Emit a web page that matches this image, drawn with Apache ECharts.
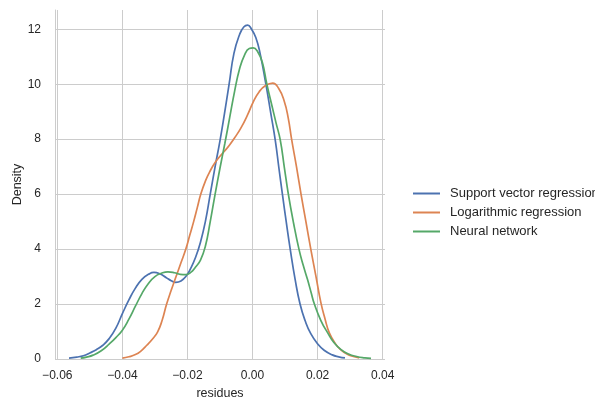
<!DOCTYPE html>
<html><head><meta charset="utf-8">
<script src="https://cdn.jsdelivr.net/npm/echarts@6/dist/echarts.min.js"></script>
<style>html,body{margin:0;padding:0;background:#fff}#c{width:595px;height:397px}</style>
</head><body><div id="c"></div>
<script>
const seriesNames = ['Support vector regression', 'Logarithmic regression', 'Neural network'];
const seriesColors = ['#4c72b0', '#dd8452', '#55a868'];

const svrData = [[-0.0564,0.03],[-0.0540,0.07],[-0.0520,0.12],[-0.0500,0.22],[-0.0480,0.34],[-0.0460,0.50],[-0.0440,0.75],[-0.0420,1.12],[-0.0400,1.65],[-0.0380,2.15],[-0.0360,2.58],[-0.0340,2.90],[-0.0320,3.08],[-0.0303,3.15],[-0.0285,3.10],[-0.0265,2.96],[-0.0250,2.85],[-0.0236,2.79],[-0.0220,2.84],[-0.0205,3.0],[-0.0190,3.3],[-0.0175,3.7],[-0.0160,4.25],[-0.0145,5.0],[-0.0130,6.0],[-0.0115,7.0],[-0.0100,7.95],[-0.0086,8.95],[-0.0072,10.0],[-0.0057,11.13],[-0.0040,11.8],[-0.0027,12.08],[-0.0015,12.15],[-0.0003,12.0],[0.0010,11.7],[0.0023,11.13],[0.0041,10.0],[0.0056,8.95],[0.0070,7.95],[0.0081,6.95],[0.0092,5.98],[0.0104,4.95],[0.0116,3.98],[0.0131,2.89],[0.0146,2.0],[0.0162,1.38],[0.0179,0.92],[0.0200,0.55],[0.0220,0.32],[0.0245,0.15],[0.0265,0.08],[0.0284,0.04]];

const logData = [[-0.0400,0.03],[-0.0380,0.08],[-0.0360,0.16],[-0.0344,0.28],[-0.0325,0.50],[-0.0308,0.72],[-0.0292,0.98],[-0.0278,1.40],[-0.0264,2.0],[-0.0250,2.5],[-0.0235,3.0],[-0.0220,3.5],[-0.0205,4.0],[-0.0193,4.5],[-0.0181,5.0],[-0.0170,5.5],[-0.0159,6.0],[-0.0144,6.5],[-0.0130,6.85],[-0.0115,7.15],[-0.0100,7.38],[-0.0085,7.58],[-0.0070,7.8],[-0.0055,8.05],[-0.0036,8.4],[-0.0015,8.89],[0.0002,9.35],[0.0020,9.72],[0.0040,9.95],[0.0062,10.04],[0.0080,9.85],[0.0097,9.4],[0.0110,8.75],[0.0120,8.0],[0.0135,7.0],[0.0149,6.0],[0.0164,5.0],[0.0179,4.0],[0.0195,3.0],[0.0210,2.05],[0.0223,1.45],[0.0236,0.95],[0.0255,0.55],[0.0272,0.33],[0.0290,0.18],[0.0310,0.09],[0.0328,0.04]];

const nnData = [[-0.0528,0.03],[-0.0510,0.07],[-0.0490,0.14],[-0.0465,0.30],[-0.0440,0.55],[-0.0420,0.78],[-0.0400,1.05],[-0.0380,1.45],[-0.0360,1.92],[-0.0340,2.38],[-0.0320,2.75],[-0.0300,3.0],[-0.0280,3.12],[-0.0260,3.17],[-0.0240,3.14],[-0.0222,3.08],[-0.0205,3.07],[-0.0190,3.15],[-0.0175,3.35],[-0.0160,3.6],[-0.0145,4.1],[-0.0130,5.0],[-0.0115,6.0],[-0.0100,6.95],[-0.0085,7.85],[-0.0070,8.8],[-0.0055,9.75],[-0.0040,10.55],[-0.0025,11.05],[-0.0010,11.3],[0.0002,11.32],[0.0015,11.2],[0.0030,10.8],[0.0044,10.0],[0.0060,9.2],[0.0072,8.6],[0.0085,7.98],[0.0098,6.95],[0.0110,6.0],[0.0126,4.95],[0.0143,3.98],[0.0156,3.4],[0.0169,2.89],[0.0180,2.42],[0.0190,2.0],[0.0210,1.4],[0.0231,0.95],[0.0250,0.6],[0.0272,0.34],[0.0295,0.18],[0.0320,0.09],[0.0345,0.04],[0.0364,0.02]];

const xTicks = [-0.06, -0.04, -0.02, 0, 0.02, 0.04];
const yTicks = [0, 2, 4, 6, 8, 10, 12];

const FONT = '"Liberation Sans", Arial, sans-serif';
const TXT = '#262626';
const GRID = '#cccccc';

const chart = echarts.init(document.getElementById('c'), null, {renderer: 'canvas'});
const allData = [svrData, logData, nnData];
chart.setOption({
  animation: false,
  backgroundColor: '#ffffff',
  textStyle: {fontFamily: FONT, color: TXT},
  grid: [
    {left: 55, right: 210, top: 10, bottom: 38, outerBoundsMode: 'none', containLabel: false},
    {left: 57.3, right: 212.3, top: 10, bottom: 38, outerBoundsMode: 'none', containLabel: false}
  ],
  xAxis: [
    {gridIndex: 0, type: 'value', min: -0.061, max: 0.0407, show: false},
    {gridIndex: 1, type: 'value', min: xTicks[0], max: xTicks[xTicks.length - 1], interval: 0.02,
     name: 'residues', nameLocation: 'middle', nameGap: 27,
     nameTextStyle: {fontSize: 12.5, color: TXT, fontFamily: FONT},
     axisLine: {show: false}, axisTick: {show: false},
     axisLabel: {fontSize: 12, color: TXT, fontFamily: FONT, margin: 11,
       formatter: v => v.toFixed(2).replace('-', '\u2212').replace('\u22120.00', '0.00')},
     splitLine: {show: true, lineStyle: {color: GRID, width: 1}}}
  ],
  yAxis: [
    {gridIndex: 0, type: 'value', min: 0, max: 12.7, interval: 2,
     name: 'Density', nameLocation: 'middle', nameGap: 31, nameMoveOverlap: false,
     nameTextStyle: {fontSize: 12.5, color: TXT, fontFamily: FONT},
     axisLine: {show: true, onZero: false, lineStyle: {color: GRID, width: 1}},
     axisTick: {show: false, customValues: yTicks},
     axisLabel: {fontSize: 12, color: TXT, fontFamily: FONT, margin: 14, customValues: yTicks},
     splitLine: {show: true, lineStyle: {color: GRID, width: 1}}},
    {gridIndex: 1, type: 'value', min: 0, max: 12.7, show: false}
  ],
  legend: {
    orient: 'vertical', left: 413, top: 187, padding: 0,
    itemWidth: 27, itemHeight: 2, itemGap: 6, icon: 'rect',
    textStyle: {fontSize: 13, color: TXT, fontFamily: FONT, lineHeight: 12, padding: [0, 0, 0, 5]},
    data: seriesNames
  },
  series: allData.map((d, i) => ({
    name: seriesNames[i], type: 'line', xAxisIndex: 1, yAxisIndex: 1,
    data: d, showSymbol: false, smooth: 0.5, clip: false,
    lineStyle: {color: seriesColors[i], width: 1.7},
    itemStyle: {color: seriesColors[i]}
  }))
});
</script></body></html>
